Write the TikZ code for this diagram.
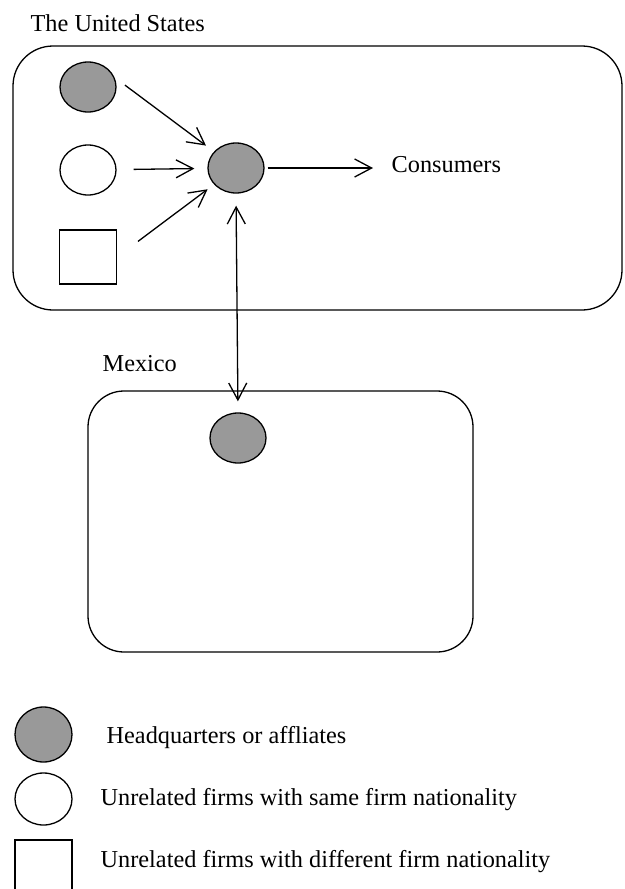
\documentclass[tikz,border=0pt]{standalone}
\usepackage{fontspec}
\setmainfont{Liberation Serif}
\usetikzlibrary{arrows.meta,shapes.geometric}
\begin{document}
\begin{tikzpicture}[x=1pt,y=-1pt,line width=1.3pt,
  firm/.style={ellipse,draw,minimum width=56pt,minimum height=50pt,inner sep=0pt},
  hqfirm/.style={firm,fill=black!40},
  sqfirm/.style={rectangle,draw,minimum width=57pt,minimum height=54pt,inner sep=0pt},
  country/.style={rectangle,draw,inner sep=0pt},
  lbl/.style={anchor=base west,inner sep=0pt,font=\fontsize{24.3}{28}\selectfont},
  arr/.style={-{Straight Barb[length=17pt,width=18pt,line width=1.3pt]}},
  darr/.style={{Straight Barb[length=17pt,width=18pt,line width=1.3pt]}-{Straight Barb[length=17pt,width=18pt,line width=1.3pt]}}]
\useasboundingbox (0,0) rectangle (624,889);
% country boxes
\node[country,rounded corners=40pt,minimum width=609pt,minimum height=264pt] (us) at (317.5,178) {};
\node[country,rounded corners=36pt,minimum width=385pt,minimum height=261pt] (mex) at (280.5,521.5) {};
\node[lbl] (ustitle) at (30,31) {The United States};
\node[lbl] (mextitle) at (102,371) {Mexico};
% firms
\node[hqfirm] (hq1) at (88,87) {};
\node[firm] (wc) at (88,170) {};
\node[sqfirm] (sq) at (88,257) {};
\node[hqfirm] (hq) at (236,168) {};
\node[hqfirm] (mx) at (238,438) {};
\node[lbl] (cons) at (391,172) {Consumers};
% connectors
\draw[arr,shorten <=13pt,shorten >=10pt] (hq1.20) -- (hq);
\draw[arr,shorten <=17pt,shorten >=13pt] (wc) -- (hq);
\draw[arr,shorten <=26pt,shorten >=8pt] (sq.east) -- (hq);
\draw[arr,shorten <=3pt,shorten >=18pt] (hq.east) -- (hq.east -| cons.west);
\draw[darr,shorten <=12pt,shorten >=11pt] (hq.south) -- (mx.north);
% legend
\node[firm,fill=black!40,minimum width=57pt,minimum height=55pt] (lhq) at (43.5,734.5) {};
\node[firm,minimum width=57pt,minimum height=52pt] (lwc) at (43.5,799) {};
\node[sqfirm,minimum height=56pt] (lsq) at (43.5,868) {};
\node[lbl] (thq) at (106,743) {Headquarters or affliates};
\node[lbl] (twc) at (100,805) {Unrelated firms with same firm nationality};
\node[lbl] (tsq) at (100,867) {Unrelated firms with different firm nationality};
\end{tikzpicture}
\end{document}
